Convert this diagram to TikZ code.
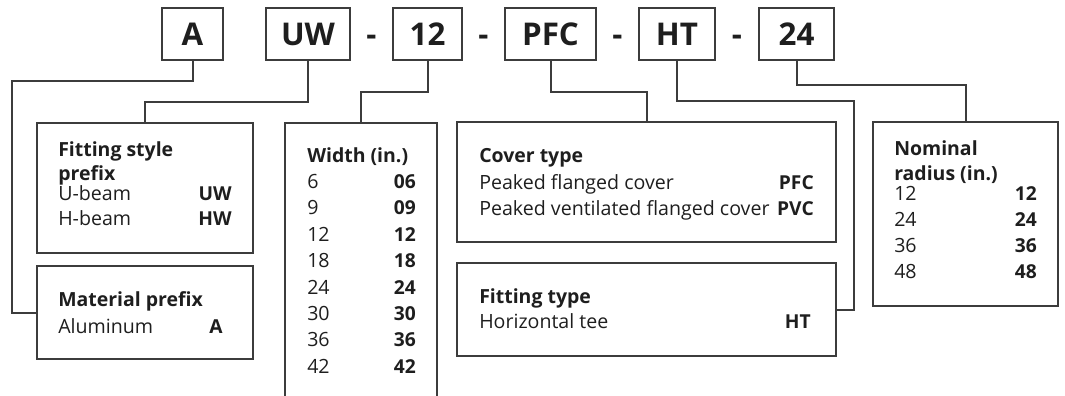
\documentclass[tikz,border=0pt]{standalone}
\usepackage{fontspec}
\setmainfont{Open Sans}
\usetikzlibrary{calc}
\definecolor{LineGray}{HTML}{3C3C3C}
\definecolor{InkBlack}{HTML}{1E1E1E}

\begin{document}
\begin{tikzpicture}[
    x=0.75pt, y=-0.75pt,
    codebox/.style={draw=LineGray, line width=1.5pt, minimum height=39pt, inner sep=0pt, text=InkBlack, font=\fontsize{23.5}{28}\selectfont\bfseries},
    hyphen/.style={anchor=base, inner sep=0pt, text=InkBlack, font=\fontsize{23.5}{28}\selectfont\bfseries},
    descbox/.style={draw=LineGray, line width=1.5pt, inner sep=0pt},
    head/.style={anchor=base west, inner sep=0pt, text=InkBlack, font=\fontsize{14.6}{18}\selectfont\bfseries},
    lbl/.style={anchor=base west, inner sep=0pt, text=InkBlack, font=\fontsize{14.7}{18}\selectfont},
    code/.style={anchor=base east, inner sep=0pt, text=InkBlack, font=\fontsize{14.4}{18}\selectfont\bfseries},
    link/.style={draw=LineGray, line width=1.5pt}
]
  \clip (0,0) rectangle (1065,396);

  % -------------------------------------------------------------
  % CODIGO DO PRODUTO
  % -------------------------------------------------------------
  \node[codebox, minimum width=45.75pt] (cA) at (192.5,34) {A};
  \node[codebox, minimum width=63pt] (cUW) at (308,34) {UW};
  \node[codebox, minimum width=51.75pt] (c12) at (427.5,34) {12};
  \node[codebox, minimum width=68.25pt] (cPFC) at (550.5,34) {PFC};
  \node[codebox, minimum width=57pt] (cHT) at (677,34) {HT};
  \node[codebox, minimum width=56.25pt] (c24) at (796.5,34) {24};

  \node[hyphen] (d1) at ($(cUW.base east)!.5!(c12.base west)$) {-};
  \node[hyphen] (d2) at ($(c12.base east)!.5!(cPFC.base west)$) {-};
  \node[hyphen] (d3) at ($(cPFC.base east)!.5!(cHT.base west)$) {-};
  \node[hyphen] (d4) at ($(cHT.base east)!.5!(c24.base west)$) {-};

  % -------------------------------------------------------------
  % CAIXAS DE DESCRICAO
  % -------------------------------------------------------------
  \node[descbox, minimum width=162pt, minimum height=97.5pt] (fsp) at (145,188) {};
  \node[descbox, minimum width=162pt, minimum height=69.75pt] (mat) at (145,312.5) {};
  \node[descbox, minimum width=114pt, minimum height=220.5pt] (wid) at (361,270) {};
  \node[descbox, minimum width=284.25pt, minimum height=90pt] (cov) at (646.5,182) {};
  \node[descbox, minimum width=284.25pt, minimum height=69.75pt] (fit) at (646.5,309.5) {};
  \node[descbox, minimum width=138.75pt, minimum height=138pt] (nom) at (965.5,214) {};

  % Fitting style prefix
  \node[head] (fspH1) at (58,156) {Fitting style};
  \node[head] (fspH2) at (58,180) {prefix};
  \node[lbl] (fspL1) at (58,200) {U-beam};
  \node[code] (fspR1) at (232,200) {UW};
  \node[lbl] (fspL2) at (58,225) {H-beam};
  \node[code] (fspR2) at (232,225) {HW};

  % Material prefix
  \node[head] (matH) at (58,306) {Material prefix};
  \node[lbl] (matL) at (58,333) {Aluminum};
  \node[code] (matR) at (223,333) {A};

  % Width
  \node[head] (widH) at (307,162) {Width (in.)};
  \foreach \w/\c [count=\i] in {6/06,9/09,12/12,18/18,24/24,30/30,36/36,42/42} {
    \node[lbl] (widL\i) at (307,162+26.4*\i) {\w};
    \node[code] (widR\i) at (416,162+26.4*\i) {\c};
  }

  % Cover type
  \node[head] (covH) at (479,162) {Cover type};
  \node[lbl] (covL1) at (479,189) {Peaked flanged cover};
  \node[code] (covR1) at (814,189) {PFC};
  \node[lbl] (covL2) at (479,215) {Peaked ventilated flanged cover};
  \node[code] (covR2) at (814,215) {PVC};

  % Fitting type
  \node[head] (fitH) at (479,303) {Fitting type};
  \node[lbl] (fitL) at (479,328) {Horizontal tee};
  \node[code] (fitR) at (811,328) {HT};

  % Nominal radius
  \node[head] (nomH1) at (894,155) {Nominal};
  \node[head] (nomH2) at (894,180) {radius (in.)};
  \foreach \r [count=\i] in {12,24,36,48} {
    \node[lbl] (nomL\i) at (894,174+26*\i) {\r};
    \node[code] (nomR\i) at (1037,174+26*\i) {\r};
  }

  % -------------------------------------------------------------
  % LIGACOES
  % -------------------------------------------------------------
  \draw[link] (cA.south) -- ++(0,20) -| ($(mat.west)+(-24,0)$) -- (mat.west);
  \draw[link] (cUW.south) -- ++(0,41) -| (fsp.north);
  \draw[link] (c12.south) -- ++(0,31) -| (wid.north);
  \draw[link] (cPFC.south) -- ++(0,31) -| (cov.north);
  \draw[link] (cHT.south) -- ++(0,40) -| ($(fit.east)+(17,0)$) -- (fit.east);
  \draw[link] (c24.south) -- ++(0,24) -| (nom.north);

\end{tikzpicture}
\end{document}
